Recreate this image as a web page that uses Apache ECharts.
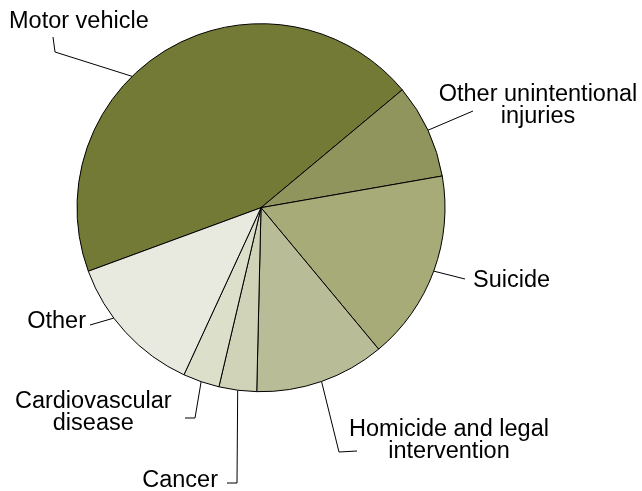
<!DOCTYPE html>
<html>
<head>
<meta charset="utf-8">
<script src="https://cdn.jsdelivr.net/npm/echarts@6/dist/echarts.min.js"></script>
<style>
html,body{margin:0;padding:0;background:#fff;}
#chart{width:642px;height:491px;}
</style>
</head>
<body>
<div id="chart"></div>
<script>
// ---- data ----
const categories = ['Motor vehicle', 'Other unintentional\ninjuries', 'Suicide', 'Homicide and legal\nintervention', 'Cancer', 'Cardiovascular\ndisease', 'Other'];
const values = [44.5, 8.3, 16.7, 11.4, 3.3, 3.2, 12.5];
const colors = ['#737a36', '#8f955d', '#a6ab78', '#b9bd97', '#d0d3b8', '#dcdfc9', '#e9eadf'];

// ---- layout (label placement, not data) ----
const CX = 261, CY = 207.7, R = 184, START = 200.2, DY = 1.5;
const labelPlace = [
  {x: 9,   y: 20.5, align: 'left',   frac: 0.41, bend: [[55, 52], [53, 37]]},
  {x: 538, y: 104.3,align: 'center', frac: 0.5,  bend: [[473, 111]]},
  {x: 473, y: 278.7,align: 'left',   frac: 0.5,  bend: [[465, 279]]},
  {x: 449, y: 438.7,align: 'center', frac: 0.5,  bend: [[339, 452], [357, 451]]},
  {x: 218, y: 479.5,align: 'right',  frac: 0.5,  bend: [[237, 483], [227, 483]]},
  {x: 93.3,y: 411,  align: 'center', frac: 0.5,  bend: [[195, 418], [185, 418]]},
  {x: 86,  y: 320,  align: 'right',  frac: 0.63, bend: [[90, 325]]}
];

const total = values.reduce((a, b) => a + b, 0);
const sliceStart = [];
let acc = 0;
values.forEach(v => { sliceStart.push(acc); acc += v; });

function edgePoint(i) {
  const f = labelPlace[i].frac;
  const deg = START - (sliceStart[i] + values[i] * f) / total * 360;
  const rad = deg * Math.PI / 180;
  return [CX + R * Math.cos(rad), CY - R * Math.sin(rad)];
}

const chart = echarts.init(document.getElementById('chart'), null, {renderer: 'canvas'});
chart.setOption({
  animation: false,
  backgroundColor: '#ffffff',
  series: [{
    type: 'pie',
    center: [CX, CY],
    radius: [0, R],
    startAngle: START,
    clockwise: true,
    avoidLabelOverlap: false,
    data: categories.map((c, i) => ({name: c, value: values[i], itemStyle: {color: colors[i]}})),
    itemStyle: {borderColor: '#000', borderWidth: 1},
    label: {
      show: true,
      position: 'outer',
      formatter: '{b}',
      color: '#000',
      fontFamily: '"Liberation Sans", Arial, sans-serif',
      fontSize: 23.5,
      lineHeight: 22
    },
    labelLine: {show: true, length: 10, length2: 10, smooth: false, lineStyle: {color: '#000', width: 1}},
    emphasis: {disabled: true},
    labelLayout: function (params) {
      const i = params.dataIndex;
      const p = labelPlace[i];
      return {
        x: p.x, y: p.y + DY, align: p.align, verticalAlign: 'middle',
        labelLinePoints: [edgePoint(i)].concat(p.bend)
      };
    }
  }]
});
</script>
</body>
</html>
